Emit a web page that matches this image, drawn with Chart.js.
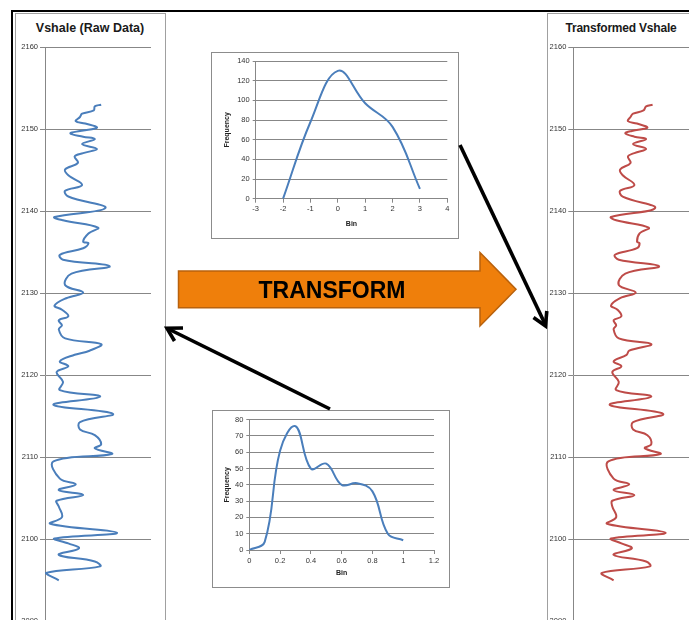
<!DOCTYPE html>
<html>
<head>
<meta charset="utf-8">
<script src="https://cdn.jsdelivr.net/npm/chart.js@4.4.1/dist/chart.umd.min.js"></script>
<style>
  html, body { margin: 0; padding: 0; background: #fff; }
  #page { position: relative; width: 689px; height: 620px; overflow: hidden; font-family: "Liberation Sans", Arial, sans-serif; }
  .abs { position: absolute; }
  .panel { position: absolute; border: 1px solid #a0a0a0; background: #fff; box-sizing: border-box; }
  .ptitle { position: absolute; font-family: "Liberation Sans", Arial, sans-serif; font-weight: bold; font-size: 12.5px; color: #1a1a1a; white-space: nowrap; transform: translateX(-50%); }
  canvas { position: absolute; }
</style>
</head>
<body>
<div id="page">
  <div class="abs" style="left:11px; top:10px; width:680px; height:2px; background:#000"></div>
  <div class="abs" style="left:11px; top:10px; width:2px; height:620px; background:#000"></div>

  <div class="panel" style="left:15px; top:13px; width:151px; height:640px"></div>
  <div class="ptitle" style="left:90px; top:21px">Vshale (Raw Data)</div>
  <canvas id="rawLog" width="148" height="700" style="left:16px; top:14px"></canvas>

  <div class="panel" style="left:547px; top:13px; width:170px; height:640px"></div>
  <div class="ptitle" style="left:621px; top:21px; font-size:12px; letter-spacing:-0.2px">Transformed Vshale</div>
  <canvas id="transLog" width="160" height="700" style="left:548px; top:14px"></canvas>

  <div class="panel" style="left:211px; top:52px; width:248px; height:187px; border-color:#8c8c8c"></div>
  <canvas id="topHist" width="246" height="185" style="left:212px; top:53px"></canvas>

  <div class="panel" style="left:212px; top:410px; width:238px; height:178px; border-color:#8c8c8c"></div>
  <canvas id="botHist" width="236" height="176" style="left:213px; top:411px"></canvas>

  <svg class="abs" style="left:0; top:0" width="689" height="620">
    <polygon points="178.5,271 480,271 480,252.5 516,289.3 480,326 480,307.7 178.5,307.7"
             fill="#ef7f0b" stroke="#b9620d" stroke-width="1.5"/>
    <text x="332" y="297.5" text-anchor="middle" font-family="Liberation Sans, Arial, sans-serif"
          font-weight="bold" font-size="23" fill="#000">TRANSFORM</text>
    <g stroke="#000" stroke-width="3.6" fill="none" stroke-linecap="butt">
      <line x1="460" y1="145" x2="545.5" y2="325"/>
      <polyline points="546.8,311 545.5,326 533.5,317.5"/>
      <line x1="330" y1="409" x2="168.5" y2="329"/>
      <polyline points="174.5,341 167,328.3 183,328"/>
    </g>
  </svg>
</div>

<script>
// ── depth logs: raw Vshale and normal-score transformed Vshale ──
const depth = [2153.0,2152.8,2152.3,2151.9,2151.5,2151.0,2150.7,2150.2,2149.8,2149.5,2149.1,2148.8,2148.2,2147.6,2147.1,2146.7,2145.9,2145.1,2144.4,2143.2,2142.5,2141.8,2140.4,2139.3,2138.9,2138.0,2137.3,
  2136.3,2136.1,2135.5,2134.7,2134.1,2133.3,2132.4,2131.0,2130.1,2129.4,2128.5,2128.0,2127.2,2126.7,2126.1,2125.6,2124.5,2123.8,2123.0,2122.5,2121.7,2121.1,2120.4,2119.2,2118.2,2117.4,2116.4,2115.3,2114.3,2113.4,
  2112.7,2111.6,2111.1,2110.4,2109.5,2107.4,2106.7,2106.0,2105.4,2104.7,2104.0,2102.7,2101.9,2100.8,2100.1,2099.5,2098.9,2098.1,2097.3,2096.7,2095.9,2095.0];
const vshaleRaw = [0.53,0.47,0.46,0.35,0.33,0.29,0.38,0.49,0.33,0.24,0.36,0.47,0.35,0.49,0.36,0.28,0.31,0.19,0.22,0.35,0.19,0.22,0.57,0.09,0.17,0.50,0.41,
  0.36,0.41,0.36,0.14,0.17,0.61,0.25,0.19,0.36,0.20,0.09,0.16,0.22,0.13,0.16,0.13,0.19,0.53,0.42,0.28,0.14,0.22,0.11,0.17,0.14,0.52,0.08,0.64,0.33,0.33,
  0.47,0.53,0.47,0.63,0.08,0.14,0.29,0.13,0.36,0.11,0.13,0.16,0.05,0.68,0.09,0.22,0.32,0.13,0.47,0.52,0.01,0.13];
const vshaleTrans = [0.61,0.56,0.54,0.46,0.44,0.42,0.49,0.57,0.45,0.40,0.47,0.56,0.46,0.56,0.47,0.42,0.44,0.36,0.38,0.47,0.36,0.38,0.63,0.29,0.33,0.58,0.51,
  0.49,0.51,0.49,0.32,0.35,0.66,0.40,0.35,0.48,0.36,0.29,0.34,0.37,0.31,0.33,0.31,0.35,0.60,0.43,0.41,0.31,0.37,0.30,0.35,0.33,0.60,0.28,0.69,0.46,0.46,
  0.57,0.60,0.55,0.67,0.27,0.31,0.43,0.31,0.47,0.30,0.30,0.33,0.26,0.71,0.29,0.37,0.45,0.31,0.56,0.59,0.22,0.31];

// ── histograms ──
const topBins = [-2, -1, 0, 1, 2, 3];
const topFreq = [0, 78, 130, 97, 73, 10];
const botBins = [0, 0.1, 0.2, 0.3, 0.4, 0.5, 0.6, 0.7, 0.8, 0.9, 1.0];
const botFreq = [0, 5, 61, 76, 50, 53, 40, 41, 36, 10, 6];

const GRID = '#878787';
const TICK_FONT = { family: 'Liberation Sans', size: 7.5 };

function pts(xs, ys) { return xs.map((x, i) => ({ x: x, y: ys[i] })); }

function logChart(id, xs, color, axisW, pad) {
  new Chart(document.getElementById(id), {
    type: 'scatter',
    data: { datasets: [{ data: pts(xs, depth), showLine: true, borderColor: color, borderWidth: 2, tension: 0.4, pointRadius: 0 }] },
    options: {
      responsive: false, animation: false,
      layout: { padding: pad },
      plugins: { legend: { display: false }, tooltip: { enabled: false } },
      scales: {
        x: { display: false, min: 0, max: 1 },
        y: { min: 2080, max: 2160,
             afterFit: s => { s.width = axisW; },
             grid: { color: GRID, tickLength: 5 }, border: { color: GRID },
             ticks: { stepSize: 10, padding: 2, color: '#333', font: TICK_FONT, callback: v => String(v) } }
      }
    }
  });
}
logChart('rawLog', vshaleRaw, '#4a7ebb', 29, { top: 33.3, right: 13, bottom: 10.7 });
logChart('transLog', vshaleTrans, '#be4b48', 25.3, { top: 33.3, right: 4.7, bottom: 10.7 });

function histChart(id, bins, freq, o) {
  new Chart(document.getElementById(id), {
    type: 'scatter',
    data: { datasets: [{ data: pts(bins, freq), showLine: true, borderColor: '#4a7ebb', borderWidth: 2, tension: 0.4, pointRadius: 0 }] },
    options: {
      responsive: false, animation: false,
      layout: { padding: { top: o.padTop, right: o.padRight } },
      plugins: { legend: { display: false }, tooltip: { enabled: false } },
      scales: {
        x: { min: o.xMin, max: o.xMax,
             afterFit: s => { s.height = o.xH; },
             grid: { drawOnChartArea: false, color: GRID, tickLength: 4 }, border: { color: GRID },
             ticks: { stepSize: o.xStep, padding: 2, color: '#333', font: TICK_FONT, callback: v => String(Math.round(v * 10) / 10) },
             title: { display: true, text: 'Bin', color: '#222', font: { family: 'Liberation Sans', size: 7, weight: 'bold' }, padding: { bottom: o.binPad } } },
        y: { min: 0, max: o.yMax,
             afterFit: s => { s.width = o.yW; },
             grid: { color: GRID, tickLength: 3 }, border: { color: GRID },
             ticks: { stepSize: o.yStep, padding: 3, color: '#333', font: TICK_FONT },
             title: { display: true, text: 'Frequency', color: '#222', font: { family: 'Liberation Sans', size: 7, weight: 'bold' }, padding: { top: o.freqPad } } }
      }
    }
  });
}
histChart('topHist', topBins, topFreq, { xMin: -3, xMax: 4, xStep: 1, yMax: 140, yStep: 20, padTop: 8, padRight: 10.7, xH: 39.3, yW: 43.7, binPad: 9.8, freqPad: 10.8 });
histChart('botHist', botBins, botFreq, { xMin: 0, xMax: 1.2, xStep: 0.2, yMax: 80, yStep: 10, padTop: 8.7, padRight: 15, xH: 37, yW: 36.3, binPad: 9.5, freqPad: 10.1 });
</script>
</body>
</html>
